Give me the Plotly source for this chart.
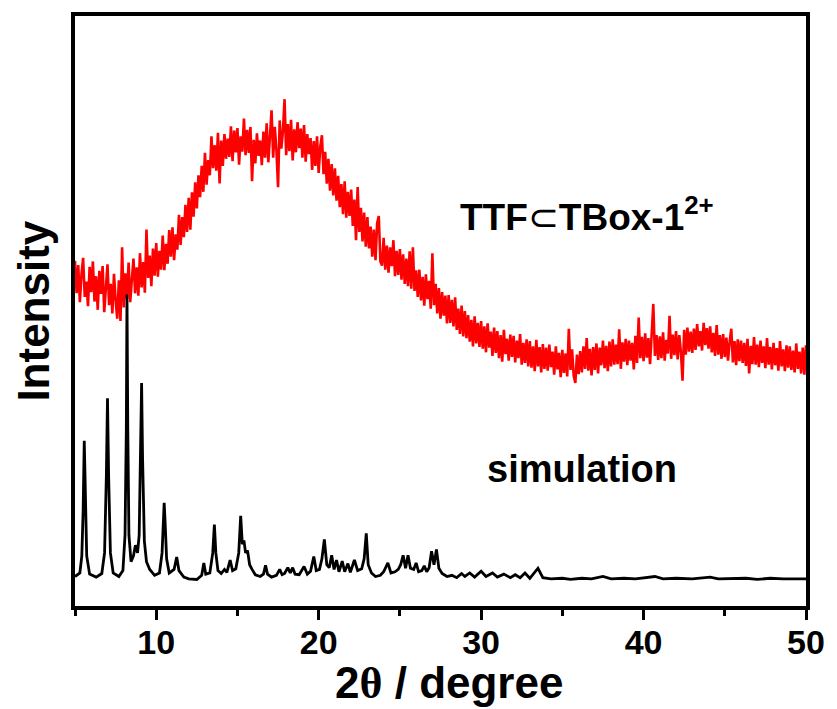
import numpy as np
import plotly.graph_objects as go

# Measured pattern of TTF⊂TBox-1²⁺ on a 0.1° 2θ grid from 5° to 50°
scan_start, scan_step = 5.0, 0.1
tbox_counts = [
    58.5, 53.0, 57.8, 51.5, 56.2, 59.0, 52.4, 55.0, 50.8, 57.5,
    53.2, 58.4, 51.6, 55.9, 50.2, 56.8, 52.9, 57.6, 49.8, 54.7,
    57.9, 51.0, 54.6, 49.6, 56.3, 51.8, 48.7, 55.2, 48.3, 60.8,
    50.6, 56.4, 52.0, 58.2, 51.5, 55.3, 58.9, 53.0, 57.4, 52.6,
    59.8, 54.0, 58.3, 53.1, 63.8, 55.6, 59.4, 54.2, 60.6, 56.0,
    61.5, 55.8, 60.2, 57.0, 62.8, 56.9, 61.4, 58.0, 63.7, 59.2,
    64.2, 58.6, 63.0, 60.4, 66.3, 61.2, 65.9, 62.5, 68.0, 63.4,
    69.2, 63.8, 70.1, 66.0, 71.8, 67.4, 73.0, 69.3, 74.6, 70.2,
    76.8, 71.4, 75.6, 73.0, 79.6, 74.2, 78.1, 73.8, 80.2, 71.6,
    78.9, 74.6, 80.0, 75.8, 79.2, 76.1, 81.3, 75.4, 80.6, 76.9,
    81.0, 74.8, 79.6, 77.0, 82.6, 76.4, 80.7, 76.8, 81.2, 72.0,
    79.0, 75.0, 80.1, 76.3, 78.9, 74.7, 80.4, 76.0, 81.8, 75.2,
    79.4, 84.0, 76.0, 81.2, 77.2, 71.0, 82.3, 77.5, 80.5, 85.9,
    76.4, 81.7, 77.1, 82.4, 75.5, 80.8, 76.9, 82.0, 77.6, 80.9,
    76.0, 81.5, 75.3, 80.0, 76.6, 79.3, 73.9, 78.8, 74.6, 79.6,
    73.4, 77.9, 79.8, 73.2, 77.0, 71.6, 75.8, 70.4, 74.9, 69.6,
    74.2, 68.7, 72.9, 67.6, 71.5, 66.4, 72.0, 65.8, 70.2, 66.1,
    70.6, 64.4, 68.9, 62.0, 71.0, 63.4, 67.5, 61.8, 66.7, 60.9,
    65.9, 60.6, 64.3, 59.2, 63.8, 58.6, 64.9, 66.1, 58.4, 57.7,
    62.4, 57.0, 61.1, 56.5, 60.8, 57.6, 62.0, 55.9, 60.2, 56.1,
    60.5, 55.3, 59.6, 54.6, 58.9, 54.2, 60.1, 53.8, 60.8, 53.4,
    56.9, 52.4, 57.0, 51.8, 55.8, 50.9, 56.2, 52.0, 55.1, 50.4,
    59.8, 51.0, 54.6, 49.6, 53.9, 48.7, 53.2, 49.2, 52.6, 47.9,
    52.7, 48.0, 51.9, 47.4, 52.3, 46.8, 50.4, 46.1, 50.9, 45.7,
    50.0, 45.4, 49.3, 44.8, 48.5, 44.0, 49.1, 44.5, 48.0, 43.9,
    48.3, 43.6, 47.4, 43.0, 47.9, 43.8, 46.5, 42.4, 47.2, 42.9,
    46.6, 42.0, 45.9, 41.4, 46.8, 42.7, 45.3, 41.6, 46.0, 42.2,
    45.8, 41.3, 45.0, 42.0, 46.1, 40.9, 44.6, 41.2, 45.2, 40.6,
    44.9, 40.4, 44.0, 39.8, 45.1, 40.6, 43.9, 39.6, 44.4, 40.2,
    43.8, 39.9, 44.3, 40.5, 43.1, 39.2, 44.0, 40.1, 42.9, 38.8,
    43.4, 39.5, 42.8, 38.9, 47.0, 40.0, 43.5, 39.0, 37.8, 42.6,
    39.3, 43.2, 39.6, 44.0, 40.2, 45.4, 39.9, 43.6, 39.1, 43.9,
    40.0, 44.5, 39.4, 43.8, 40.8, 45.0, 40.3, 44.1, 39.8, 44.8,
    40.6, 45.2, 40.9, 44.3, 41.0, 46.9, 40.2, 44.7, 41.4, 45.3,
    40.8, 45.0, 41.6, 44.6, 40.1, 45.8, 41.2, 48.9, 42.0, 45.6,
    41.5, 46.2, 42.1, 45.4, 41.0, 46.8, 51.2, 42.4, 45.9, 41.7,
    45.7, 42.0, 46.4, 41.6, 45.1, 42.8, 49.2, 41.9, 46.0, 42.5,
    46.6, 41.8, 45.9, 43.0, 38.2, 46.8, 42.6, 47.2, 43.1, 46.5,
    42.9, 47.0, 43.4, 47.8, 44.0, 46.6, 43.3, 48.0, 44.2, 47.1,
    43.6, 47.4, 43.0, 46.3, 42.4, 47.6, 42.6, 45.9, 41.9, 46.1,
    42.2, 45.5, 41.6, 44.8, 47.0, 41.3, 44.9, 40.8, 45.2, 41.5,
    45.0, 41.2, 44.6, 40.7, 45.3, 39.4, 44.1, 41.0, 45.6, 40.9,
    44.3, 40.5, 45.0, 41.2, 44.0, 40.3, 45.4, 40.9, 43.9, 40.1,
    44.6, 40.8, 43.7, 39.9, 44.9, 40.6, 43.5, 39.8, 44.2, 40.4,
    44.0, 40.0, 43.3, 39.6, 44.5, 40.2, 43.1, 39.4, 43.8, 39.2,
    44.2,
]
tbox_two_theta = np.round(scan_start + scan_step * np.arange(len(tbox_counts)), 1)

# Simulated pattern from the single-crystal structure (offset below the measured one)
sim_two_theta = [
    5.0, 5.3, 5.42, 5.5, 5.57, 5.64, 5.72, 5.9, 6.3, 6.65,
    6.82, 6.93, 7.0, 7.07, 7.18, 7.35, 7.7, 7.95, 8.08, 8.16,
    8.2, 8.25, 8.32, 8.45, 8.6, 8.72, 8.85, 8.95, 9.04, 9.1,
    9.16, 9.27, 9.4, 9.6, 9.9, 10.2, 10.36, 10.44, 10.49, 10.55,
    10.64, 10.8, 11.1, 11.26, 11.4, 11.7, 12.0, 12.5, 12.8, 12.93,
    13.05, 13.3, 13.48, 13.58, 13.67, 13.8, 14.0, 14.2, 14.35, 14.55,
    14.7, 14.9, 15.08, 15.2, 15.3, 15.4, 15.5, 15.62, 15.75, 15.9,
    16.1, 16.4, 16.6, 16.73, 16.85, 17.1, 17.4, 17.6, 17.75, 17.9,
    18.1, 18.25, 18.4, 18.55, 18.8, 19.1, 19.3, 19.5, 19.7, 19.85,
    20.05, 20.2, 20.35, 20.5, 20.65, 20.8, 20.95, 21.1, 21.25, 21.45,
    21.6, 21.8, 21.95, 22.2, 22.4, 22.65, 22.8, 22.93, 23.05, 23.25,
    23.5, 23.8, 24.0, 24.26, 24.45, 24.7, 24.9, 25.05, 25.2, 25.35,
    25.5, 25.65, 25.85, 26.0, 26.15, 26.35, 26.5, 26.65, 26.8, 26.95,
    27.1, 27.25, 27.4, 27.6, 27.9, 28.2, 28.5, 28.8, 29.0, 29.3,
    29.6, 30.0, 30.3, 30.7, 31.0, 31.4, 31.8, 32.1, 32.4, 32.7,
    33.0, 33.5, 33.8, 34.3, 35.0, 35.5, 36.2, 36.8, 37.5, 38.0,
    38.8, 39.5, 40.0, 40.7, 41.2, 42.0, 43.0, 44.1, 44.6, 45.5,
    46.3, 47.0, 47.8, 48.6, 49.3, 50.0,
]
sim_intensity = [
    5.0, 5.6, 8.5, 16.0, 28.0, 16.0, 8.5, 5.4, 4.9, 5.5,
    9.0, 22.0, 35.2, 22.0, 9.0, 5.6, 5.0, 6.0, 12.0, 30.0,
    52.8, 30.0, 12.0, 7.5, 8.5, 10.3, 9.0, 12.0, 25.0, 37.8,
    25.0, 11.0, 7.5, 6.2, 5.2, 5.6, 9.0, 14.0, 17.5, 14.0,
    8.0, 5.6, 6.2, 8.3, 6.0, 4.9, 4.6, 4.5, 5.2, 7.3,
    5.4, 5.6, 9.0, 13.8, 9.0, 6.0, 5.5, 6.2, 5.7, 7.8,
    6.0, 6.3, 9.0, 15.3, 10.5, 11.1, 9.0, 9.4, 7.0, 6.2,
    5.3, 5.0, 5.4, 6.9, 5.4, 4.9, 5.2, 6.2, 5.3, 5.5,
    6.5, 5.6, 6.5, 5.4, 5.3, 6.7, 5.4, 5.9, 8.4, 6.0,
    6.2, 8.0, 11.3, 7.0, 6.5, 8.6, 6.2, 7.8, 5.8, 7.6,
    5.8, 7.2, 5.7, 7.8, 6.0, 6.3, 8.0, 12.3, 7.0, 5.6,
    5.0, 5.2, 5.8, 7.3, 5.6, 5.8, 6.2, 7.0, 8.6, 6.4,
    8.6, 6.4, 6.2, 7.3, 5.8, 6.0, 6.8, 5.8, 6.5, 9.3,
    7.0, 9.6, 6.4, 5.5, 5.0, 5.2, 4.8, 5.5, 5.0, 5.6,
    4.9, 5.9, 5.0, 5.6, 4.9, 5.4, 4.8, 5.3, 4.8, 5.6,
    4.7, 6.4, 4.8, 4.6, 4.7, 4.5, 4.7, 4.6, 5.0, 4.6,
    4.7, 4.6, 4.8, 5.0, 4.6, 4.7, 4.6, 4.9, 4.6, 4.6,
    4.7, 4.5, 4.7, 4.6, 4.6, 4.6,
]

x_tick_values = [10, 20, 30, 40, 50]
x_tick_labels = ["10", "20", "30", "40", "50"]

SANS = "Arial, 'Liberation Sans', sans-serif"

fig = go.Figure()
fig.add_trace(go.Scatter(
    x=tbox_two_theta, y=tbox_counts, mode="lines",
    line=dict(color="#ff0000", width=2.6), showlegend=False,
))
fig.add_trace(go.Scatter(
    x=sim_two_theta, y=sim_intensity, mode="lines",
    line=dict(color="#000000", width=2.8), showlegend=False,
))

fig.update_layout(
    width=837, height=709,
    margin=dict(l=75, r=26, t=13, b=103),
    paper_bgcolor="white", plot_bgcolor="white",
    font=dict(family=SANS, color="black"),
    annotations=[
        dict(x=36.5, y=66.4, xref="x", yref="y",
             text="TTF<span style='font-weight:normal'>⊂</span>TBox-1<sup>2+</sup>",
             showarrow=False, xanchor="center", yanchor="middle",
             font=dict(family=SANS, size=37, weight="bold", color="black")),
        dict(x=36.2, y=23.3, xref="x", yref="y",
             text="simulation", showarrow=False,
             xanchor="center", yanchor="middle",
             font=dict(family=SANS, size=38, weight="bold", color="black")),
        dict(x=0.511, y=-0.13, xref="paper", yref="paper",
             text="2<span style='font-family:Liberation Serif'>θ</span> / degree",
             showarrow=False, xanchor="center", yanchor="middle",
             font=dict(family=SANS, size=44, weight="bold", color="black")),
        dict(x=-0.058, y=0.5, xref="paper", yref="paper",
             text="Intensity", textangle=-90, showarrow=False,
             xanchor="center", yanchor="middle",
             font=dict(family=SANS, size=44, weight="bold", color="black")),
    ],
)

fig.update_xaxes(
    range=[5, 50], tickvals=x_tick_values, ticktext=x_tick_labels,
    ticks="outside", ticklen=10, tickwidth=3, tickcolor="black",
    minor=dict(ticks="outside", ticklen=6, tickwidth=3, tickcolor="black",
               tick0=5, dtick=5),
    tickfont=dict(family=SANS, size=34, weight="bold", color="black"),
    ticklabelstandoff=-7,
    showline=True, linewidth=4, linecolor="black", mirror=True,
    showgrid=False, zeroline=False,
)
fig.update_yaxes(
    range=[0, 100], showticklabels=False, ticks="",
    showline=True, linewidth=4, linecolor="black", mirror=True,
    showgrid=False, zeroline=False,
)

fig.write_html("out.html")
